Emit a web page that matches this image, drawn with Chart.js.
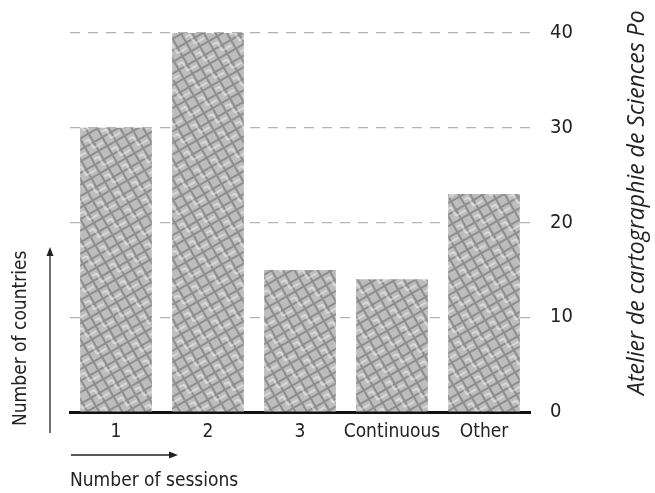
<!DOCTYPE html>
<html>
<head>
<meta charset="utf-8">
<script src="https://cdn.jsdelivr.net/npm/chart.js@4"></script>
<style>
  html, body { margin: 0; padding: 0; background: #fff; }
  #wrap { width: 655px; height: 493px; position: relative; }
</style>
</head>
<body>
<div id="wrap"><canvas id="sessionsChart"></canvas></div>
<script>
// Number of sessions per country
const categories = ['1', '2', '3', 'Continuous', 'Other'];
const countries = [30, 40, 15, 14, 23];
const yTicks = [0, 10, 20, 30, 40];

const condensed = "'Liberation Sans Narrow', 'DejaVu Sans Condensed', sans-serif";

// hatched grey fill like the printed figure
function makeHatch(ctx) {
    const c = document.createElement('canvas');
    c.width = 20; c.height = 20;
    const g = c.getContext('2d');
    g.fillStyle = '#bdbdbd';
    g.fillRect(0, 0, 20, 20);
    g.strokeStyle = '#8e8e8e';
    g.lineWidth = 2;
    g.beginPath();
    for (let i = 0; i <= 20; i += 10) {
        g.moveTo(i, 0); g.lineTo(i, 20);
        g.moveTo(0, i); g.lineTo(20, i);
    }
    g.stroke();
    g.strokeStyle = 'rgba(255,255,255,0.8)';
    g.lineWidth = 1;
    g.beginPath();
    g.moveTo(2, 5); g.lineTo(7, 5); g.lineTo(7, 15); g.lineTo(18, 15);
    g.stroke();
    const p = ctx.createPattern(c, 'repeat');
    p.setTransform(new DOMMatrix().rotateSelf(-30));
    return p;
}

const ctx = document.getElementById('sessionsChart').getContext('2d');
const hatch = makeHatch(ctx);

// axis titles, arrows and credit line
const decorations = {
    id: 'decorations',
    afterDraw(chart) {
        const c = chart.ctx;
        c.save();
        c.fillStyle = '#222';
        c.strokeStyle = '#222';
        c.lineWidth = 1.3;

        // up arrow + vertical title
        c.beginPath(); c.moveTo(50, 433); c.lineTo(50, 254); c.stroke();
        c.beginPath(); c.moveTo(50, 247); c.lineTo(46.5, 256); c.lineTo(53.5, 256); c.closePath(); c.fill();
        c.save();
        c.translate(21, 426);
        c.rotate(-Math.PI / 2);
        c.font = "19px " + condensed;
        c.textAlign = 'left';
        c.textBaseline = 'middle';
        c.fillText('Number of countries', 0, 0);
        c.restore();

        // right arrow + horizontal title
        c.beginPath(); c.moveTo(71, 455); c.lineTo(172, 455); c.stroke();
        c.beginPath(); c.moveTo(178, 455); c.lineTo(169, 451.5); c.lineTo(169, 458.5); c.closePath(); c.fill();
        c.font = "19px " + condensed;
        c.textAlign = 'left';
        c.textBaseline = 'middle';
        c.fillText('Number of sessions', 70, 481);

        // credit
        c.save();
        c.translate(637, 395);
        c.rotate(-Math.PI / 2);
        c.font = "italic 23px 'Open Sans', sans-serif";
        c.textBaseline = 'middle';
        c.fillText('Atelier de cartographie de Sciences Po', 0, 0);
        c.restore();
        c.restore();
    }
};

new Chart(ctx, {
    type: 'bar',
    data: {
        labels: categories,
        datasets: [{
            label: 'Number of countries',
            data: countries,
            backgroundColor: hatch,
            borderWidth: 0,
            barPercentage: 0.78,
            categoryPercentage: 1
        }]
    },
    options: {
        responsive: true,
        maintainAspectRatio: false,
        animation: false,
        layout: { padding: { left: 70, top: 33, right: 0, bottom: 0 } },
        plugins: { legend: { display: false }, tooltip: { enabled: false } },
        scales: {
            x: {
                grid: { display: false, drawTicks: false },
                border: { color: '#111', width: 3 },
                ticks: {
                    color: '#222', padding: 9, maxRotation: 0, minRotation: 0, autoSkip: false,
                    font: { family: condensed, size: 19 }
                },
                afterFit: s => { s.height = 81; }
            },
            y: {
                position: 'right',
                min: 0,
                max: 40,
                afterBuildTicks: s => { s.ticks = yTicks.map(v => ({ value: v })); },
                grid: {
                    color: c => c.tick && c.tick.value === 0 ? 'rgba(0,0,0,0)' : '#b3b3b3',
                    lineWidth: 1.2,
                    drawTicks: false
                },
                border: { display: false, dash: [10, 8] },
                ticks: { color: '#222', padding: 20, font: { family: condensed, size: 20 } },
                afterFit: s => { s.width = 125; }
            }
        }
    },
    plugins: [decorations]
});
</script>
</body>
</html>
